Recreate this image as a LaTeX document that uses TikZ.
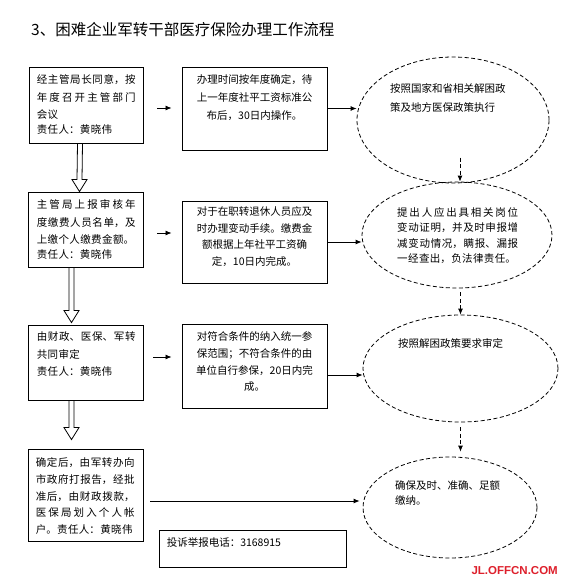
\documentclass[tikz,border=0pt]{standalone}
\usepackage{fontspec}
\newfontfamily\cjk{Noto Sans CJK SC}
\newfontfamily\wmfont{Liberation Sans}
\XeTeXlinebreaklocale "zh"
\XeTeXlinebreakskip=0.4pt plus 3pt
\usetikzlibrary{arrows.meta,calc,positioning,shapes.geometric}
\definecolor{wmred}{RGB}{222,32,44}
\tikzset{
    proc/.style =   {rectangle,
                    draw=black,
                    line width=0.9pt,
                    inner sep=0pt},
    oval/.style =   {ellipse,
                    draw=black,
                    dash pattern=on 4pt off 2.5pt,
                    line width=0.8pt,
                    inner sep=0pt},
    txt/.style =    {inner sep=0pt,
                    text=black,
                    font=\cjk\fontsize{10.5}{17.5}\selectfont},
    stub/.style =   {draw=black,
                    line width=0.8pt,
                    -{Latex[length=6pt,width=5pt]}},
    dstub/.style =  {stub,
                    dash pattern=on 4pt off 2.5pt},
    fat/.style =    {draw=black,
                    line width=0.8pt,
                    line join=miter}
}
\newcommand{\hollowdown}[4]{%
  \draw[fat] ($(#1.south)+(#3-2.5,0)$)
          -- ($(#2.north)+(#3-2.5,-#4-12)$) -- ++(-5,0)
          -- ($(#2.north)+(#3,-#4)$)
          -- ($(#2.north)+(#3+7.5,-#4-12)$) -- ++(-5,0)
          -- ($(#1.south)+(#3+2.5,0)$);}
\begin{document}
\begin{tikzpicture}[x=1pt,y=-1pt]
\useasboundingbox[fill=white] (0,0) rectangle (566,579);
% title
\node[txt, font=\cjk\fontsize{15.5}{18}\selectfont, anchor=west] (title) at (31,30) {3、困难企业军转干部医疗保险办理工作流程};

% left column
\node[proc, minimum width=114pt, minimum height=76pt] (b1) at (86,105) {};
\node[proc, minimum width=115pt, minimum height=75pt] (b2) at (85.5,229.5) {};
\node[proc, minimum width=115pt, minimum height=75pt] (b3) at (85.5,362.5) {};
\node[proc, minimum width=115pt, minimum height=92pt] (b4) at (85.5,495) {};
% middle column
\node[proc, minimum width=145pt, minimum height=83pt] (m1) at (254.5,108.5) {};
\node[proc, minimum width=145pt, minimum height=82pt] (m2) at (254.5,242) {};
\node[proc, minimum width=145pt, minimum height=84pt] (m3) at (254.5,366) {};
\node[proc, minimum width=187pt, minimum height=37pt] (tel) at (252.5,548.5) {};
% right column
\node[oval, minimum width=192pt, minimum height=126pt] (e1) at (453,120) {};
\node[oval, minimum width=190pt, minimum height=106pt] (e2) at (457,235) {};
\node[oval, minimum width=195pt, minimum height=107pt] (e3) at (460.5,368.5) {};
\node[oval, minimum width=174pt, minimum height=101pt] (e4) at (450,507.5) {};

% texts
\node[txt, text width=99pt, align=justify, anchor=north west] (b1t) at ([xshift=8pt,yshift=-8pt]b1.north west) {经主管局长同意，按\linebreak 年度召开主管部门\linebreak 会议\\[-3pt]责任人：黄晓伟};
\node[txt, text width=99pt, align=justify, anchor=north west] (b2t) at ([xshift=9pt,yshift=-8pt]b2.north west) {主管局上报审核年\linebreak 度缴费人员名单，及\linebreak 上缴个人缴费金额。\\[-3pt]责任人：黄晓伟};
\node[txt, text width=99pt, align=justify, anchor=north west] (b3t) at ([xshift=9pt,yshift=-7pt]b3.north west) {由财政、医保、军转\linebreak 共同审定\\责任人：黄晓伟};
\node[txt, text width=99pt, align=justify, anchor=north west, font=\cjk\fontsize{10.5}{16.7}\selectfont] (b4t) at ([xshift=8pt,yshift=-9pt]b4.north west) {\parfillskip=0pt 确定后，由军转办向\linebreak 市政府打报告，经批\linebreak 准后，由财政拨款，\linebreak 医保局划入个人帐\linebreak 户。责任人：黄晓伟};

\node[txt, align=center, anchor=north, font=\cjk\fontsize{10.5}{18}\selectfont] (m1t) at ([yshift=-8pt]m1.north) {办理时间按年度确定，待\\上一年度社平工资标准公\\布后，30日内操作。};
\node[txt, align=center, anchor=north, font=\cjk\fontsize{10.5}{16.5}\selectfont] (m2t) at ([yshift=-6pt]m2.north) {对于在职转退休人员应及\\时办理变动手续。缴费金\\额根据上年社平工资确\\定，10日内完成。};
\node[txt, align=center, anchor=north, font=\cjk\fontsize{10.5}{16.7}\selectfont] (m3t) at ([yshift=-8pt]m3.north) {对符合条件的纳入统一参\\保范围；不符合条件的由\\单位自行参保，20日内完\\成。};
\node[txt, anchor=north west] (telt) at ([xshift=8pt,yshift=-8pt]tel.north west) {投诉举报电话：3168915};

\node[txt, align=left, anchor=north west, font=\cjk\fontsize{10.5}{19}\selectfont] (e1t) at ([xshift=-63pt,yshift=37pt]e1.center) {按照国家和省相关解困政\\策及地方医保政策执行};
\node[txt, text width=121pt, align=justify, anchor=north west, font=\cjk\fontsize{10.5}{15.5}\selectfont] (e2t) at ([xshift=-60pt,yshift=28pt]e2.center) {\parfillskip=0pt 提出人应出具相关岗位\linebreak 变动证明，并及时申报增\linebreak 减变动情况，瞒报、漏报\linebreak 一经查出，负法律责任。};
\node[txt, anchor=north west] (e3t) at ([xshift=-62.5pt,yshift=30.5pt]e3.center) {按照解困政策要求审定};
\node[txt, align=left, anchor=north west, font=\cjk\fontsize{10.5}{15}\selectfont] (e4t) at ([xshift=-55pt,yshift=27.5pt]e4.center) {确保及时、准确、足额\\缴纳。};

\node[anchor=south east, inner sep=0pt, text=wmred, font=\wmfont\bfseries\fontsize{11.5}{12}\selectfont] (wm) at (558,575) {JL.OFFCN.COM};

% hollow arrows down the left column
\hollowdown{b1}{b2}{-6}{0}
\hollowdown{b2}{b3}{-14}{2}
\hollowdown{b3}{b4}{-14}{9}

% short arrows to the middle column
\coordinate (a1) at ([yshift=-3pt]b1.east);
\coordinate (a2) at ([yshift=-3.5pt]b2.east);
\coordinate (a3) at ([yshift=5.5pt]b3.east);
\draw[stub, shorten <=14pt, shorten >=10pt] (a1) -- (a1 -| m1.west);
\draw[stub, shorten <=14pt, shorten >=10pt] (a2) -- (a2 -| m2.west);
\draw[stub, shorten <=10pt, shorten >=10pt] (a3) -- (a3 -| m3.west);

% to the ovals
\coordinate (a6) at ([yshift=-9pt]m3.east);
\coordinate (a7) at ([yshift=-6pt]b4.east);
\draw[stub] (m1.east) -- (m1.east -| e1.west);
\draw[stub] (m2.east) -- (m2.east -| e2.west);
\draw[stub] (a6) -- (a6 -| e3.west);
\draw[stub, shorten <=7pt, shorten >=3pt] (a7) -- (a7 -| e4.west);

% dashed arrows between the ovals
\coordinate (d1) at ([xshift=3pt,yshift=24pt]e2.north);
\draw[dstub] (d1) -- (d1 |- e2.north);
\draw[dstub, shorten <=4pt] (e2.south -| e3.north) -- (e3.north);
\draw[dstub, shorten <=5pt, shorten >=5pt] (e3.south) -- (e3.south |- e4.north);
\end{tikzpicture}
\end{document}
